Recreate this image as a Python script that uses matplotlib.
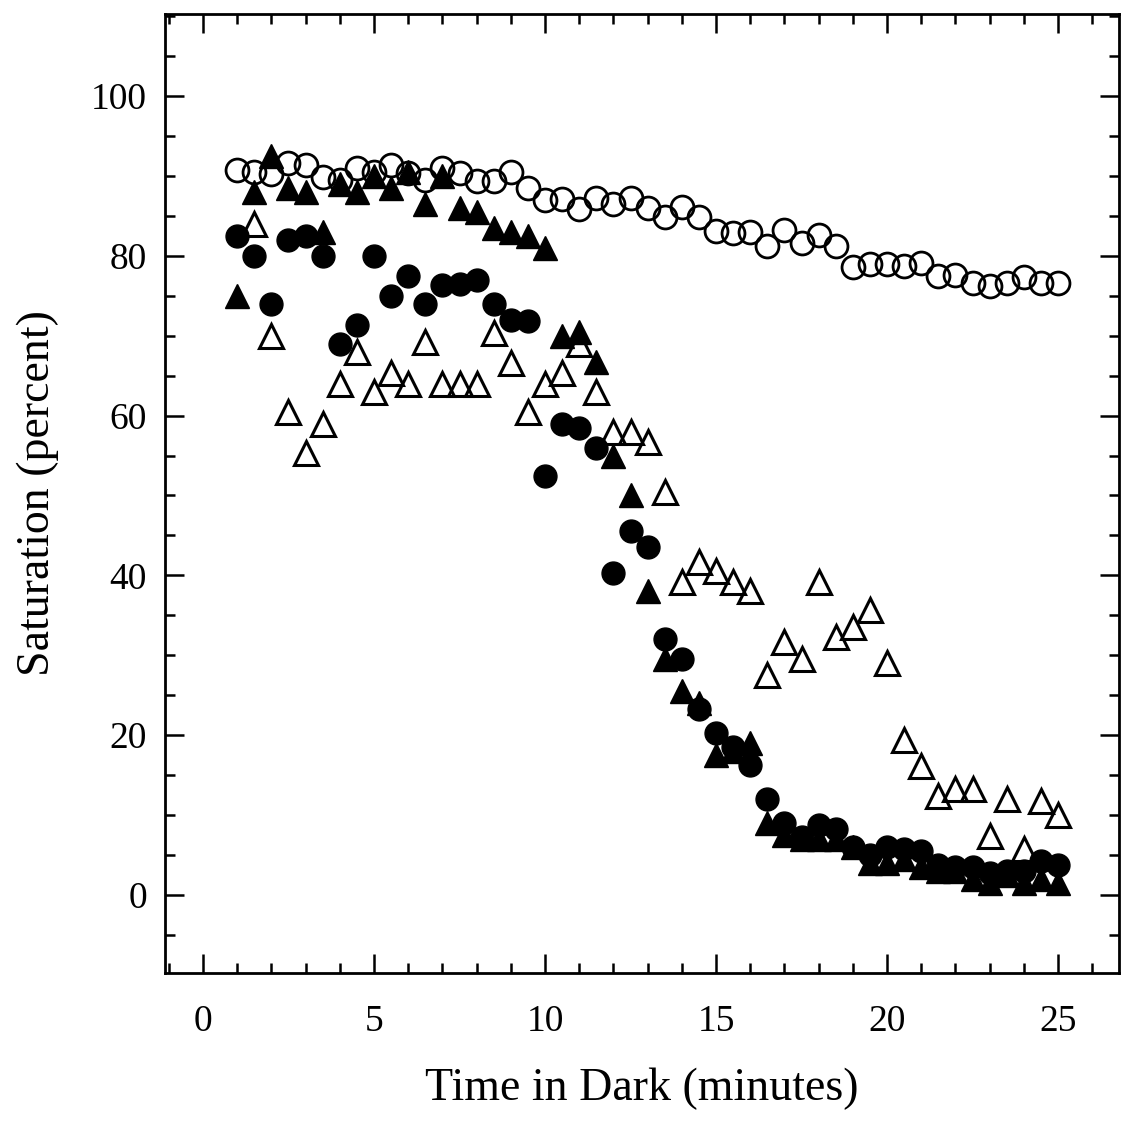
import matplotlib
matplotlib.use('Agg')
import matplotlib.pyplot as plt
from matplotlib.ticker import MultipleLocator

plt.rcParams['font.family'] = ['Liberation Serif', 'DejaVu Serif']

# Time in dark (minutes), sampled every half minute
t_all = [1 + 0.5 * i for i in range(49)]
t_open_tri = t_all[1:]

# Open circles
open_circ = [90.7, 90.5, 90.2, 91.6, 91.4, 89.9, 89.5, 91, 90.5, 91.4,
             90.3, 89.5, 91, 90.3, 89.3, 89.3, 90.5, 88.5, 87,
             87.1, 85.9, 87.2, 86.5, 87.2, 86, 84.9, 86.1, 84.9, 83.1,
             82.9, 83, 81.2, 83.2, 81.6, 82.6, 81.2, 78.6,
             79, 79, 78.7, 79.1, 77.5, 77.6, 76.6, 76.2, 76.6, 77.3, 76.6, 76.6]

# Filled triangles
fill_tri = [75, 88, 92.5, 88.5, 88, 83, 89, 88, 90, 88.5,
            90.5, 86.5, 90, 86, 85.5, 83.5, 83, 82.5, 81,
            70, 70.5, 66.7, 55, 50, 38, 29.5, 25.5, 24, 17.5,
            18, 19, 9, 7.5, 7, 7, 7, 6, 4, 4, 4.5, 3.5,
            3, 3, 2, 1.5, 2.5, 1.5, 2, 1.5]

# Filled circles
fill_circ = [82.5, 80, 74, 82, 82.5, 80, 69, 71.3, 80, 75,
             77.5, 74, 76.3, 76.5, 77, 74, 72, 71.8, 52.5,
             59, 58.5, 56, 40.3, 45.5, 43.5, 32, 29.5, 23.3, 20.3,
             18.5, 16.3, 12,
             9, 7.3, 8.7, 8.3, 6, 5, 6, 5.8, 5.5, 3.8, 3.5, 3.5,
             2.7, 3, 3, 4.2, 3.7]

# Open triangles (start at 1.5 min)
open_tri = [84, 70, 60.5, 55.3, 59, 64, 68, 63, 65.3, 64,
            69.2, 64, 64, 64, 70.3, 66.6, 60.5, 64,
            65.3, 69, 63, 58, 58, 56.7,
            50.5, 39.2, 41.7, 40.5, 39.2, 38, 27.5, 31.7, 29.6,
            39.2, 32.3, 33.6, 35.7,
            29, 19.4, 16.1, 12.4, 13.3, 13.3, 7.4, 12, 5.8, 11.8, 10]

fig = plt.figure(figsize=(11.22, 11.44), dpi=100)
W, H = 1122, 1144
ax = fig.add_axes([165 / W, 1 - 973 / H, (1119 - 165) / W, (973 - 14) / H])

ax.plot(t_open_tri, open_tri, '^', ms=17, mfc='none', mec='black', mew=2.2)
ax.plot(t_all, open_circ, 'o', ms=16.5, mfc='none', mec='black', mew=2.0)
ax.plot(t_all, fill_tri, '^', ms=17, mfc='black', mec='black', mew=1)
ax.plot(t_all, fill_circ, 'o', ms=16.5, mfc='black', mec='black', mew=1)

ax.set_xlim(-1.11, 26.78)
ax.set_ylim(-9.76, 110.26)

ax.xaxis.set_major_locator(MultipleLocator(5))
ax.xaxis.set_minor_locator(MultipleLocator(1))
ax.yaxis.set_major_locator(MultipleLocator(20))
ax.yaxis.set_minor_locator(MultipleLocator(5))

ax.tick_params(which='both', direction='in', top=True, right=True,
               width=1.8, colors='black')
ax.tick_params(which='major', length=14)
ax.tick_params(which='minor', length=7)
ax.tick_params(axis='x', which='major', labelsize=27, pad=23)
ax.tick_params(axis='y', which='major', labelsize=27, pad=13)

for sp in ax.spines.values():
    sp.set_linewidth(2.0)

ax.set_xlabel('Time in Dark (minutes)', fontsize=33, labelpad=20)
ax.set_ylabel('Saturation (percent)', fontsize=33, labelpad=23)

fig.savefig('out.png', dpi=100, facecolor='white')
